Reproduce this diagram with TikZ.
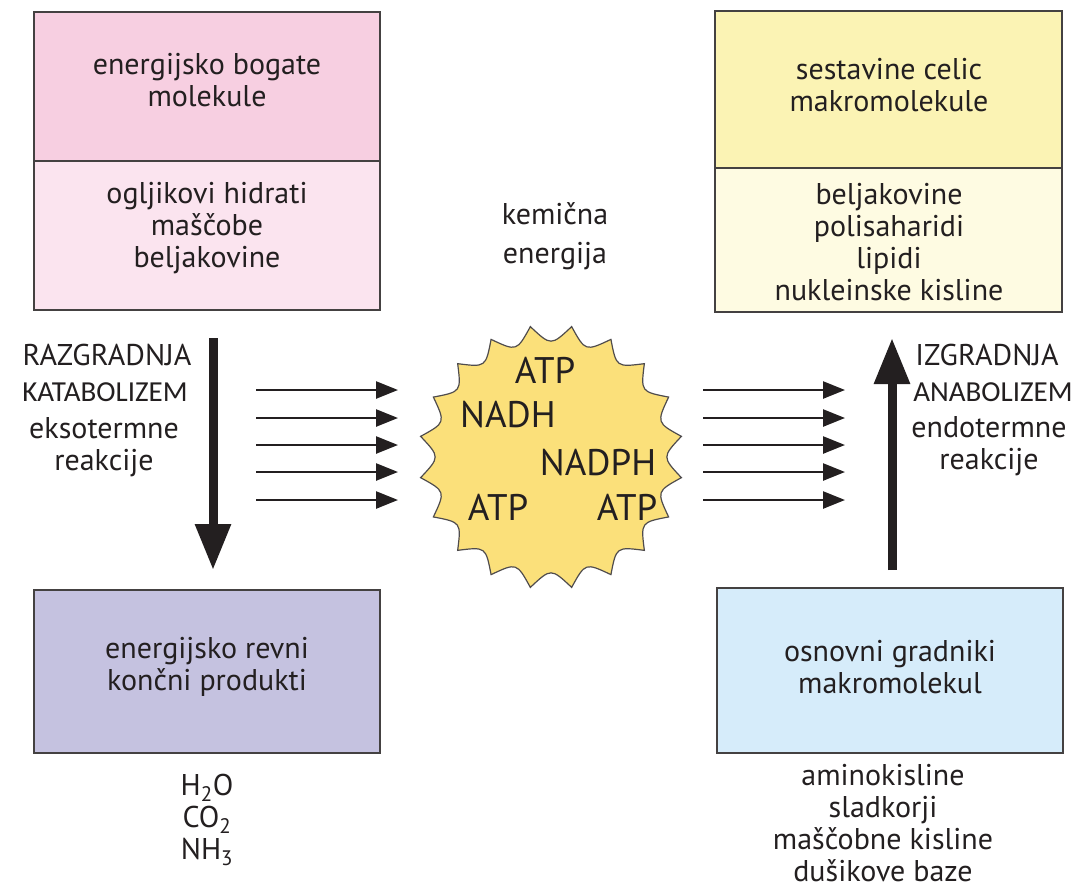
\documentclass[tikz,border=0pt]{standalone}
\usepackage{fontspec}
\setmainfont{PT Sans}
\newfontfamily\calib{Carlito}
\usetikzlibrary{arrows.meta,positioning}
\definecolor{ink}{RGB}{35,31,32}
\definecolor{rozaA}{RGB}{247,207,225}
\definecolor{rozaB}{RGB}{251,228,239}
\definecolor{rumA}{RGB}{251,243,180}
\definecolor{rumB}{RGB}{254,251,226}
\definecolor{vijol}{RGB}{197,194,224}
\definecolor{modra}{RGB}{214,236,250}
\definecolor{sonce}{RGB}{251,224,122}
\begin{document}
\begin{tikzpicture}[x=1pt,y=-1pt,
  box/.style={draw=ink!85,line width=1.5pt,minimum width=346pt,inner sep=0pt},
  txt/.style={text=ink,align=center,inner sep=0pt,font=\fontsize{30}{32}\selectfont},
  velik/.style={text=ink,inner sep=0pt,font=\fontsize{37}{40}\selectfont},
  cal/.style={text=ink,inner sep=0pt,font=\calib\fontsize{29}{31}\selectfont},
  debela/.style={draw=ink,line width=9pt,-{Triangle[width=34pt,length=46pt]}},
  tanka/.style={draw=ink,line width=2.5pt,-{Triangle[width=17pt,length=22pt]}}]
\path[use as bounding box,fill=white] (0,0) rectangle (1073,892);

\node[box,fill=rozaA,minimum height=149pt] (bogA) at (207,86.5) {};
\node[box,fill=rozaB,minimum height=149pt] (bogB) at (207,235.5) {};
\node[box,fill=rumA,minimum width=347pt,minimum height=157pt] (makA) at (888.5,89.5) {};
\node[box,fill=rumB,minimum width=347pt,minimum height=144pt] (makB) at (888.5,240) {};
\node[box,fill=vijol,minimum height=163pt] (revni) at (207,671.5) {};
\node[box,fill=modra,minimum height=165pt] (gradn) at (890,670.5) {};

\node[txt] (tBogA) at (207,80) {energijsko bogate\\molekule};
\node[txt] (tBogB) at (207,228) {ogljikovi hidrati\\maščobe\\beljakovine};
\node[txt] (tMakA) at (889,85) {sestavine celic\\makromolekule};
\node[txt] (tMakB) at (889,242) {beljakovine\\polisaharidi\\lipidi\\nukleinske kisline};
\node[txt] (tRevni) at (207,667) {energijsko revni\\končni produkti};
\node[txt] (tGradn) at (890,667) {osnovni gradniki\\makromolekul};
\node[txt] (kem) at (555,236) {kemična\\[7pt]energija};

\node[txt] (razg) at (107,355) {RAZGRADNJA};
\node[cal] (kata) at (105,392) {KATABOLIZEM};
\node[txt] (ekso) at (104,447) {eksotermne\\reakcije};
\node[txt] (izgr) at (987,355) {IZGRADNJA};
\node[cal] (ana) at (993,392) {ANABOLIZEM};
\node[txt] (endo) at (989,446) {endotermne\\reakcije};

\node[txt] (odpad) at (207,820) {H\textsubscript{2}O\\CO\textsubscript{2}\\NH\textsubscript{3}};
\node[txt] (gradniki) at (883,823) {aminokisline\\sladkorji\\maščobne kisline\\dušikove baze};

\coordinate (katZ) at (213,338);
\coordinate (katK) at (213,570);
\coordinate (anaZ) at (892,570);
\coordinate (anaK) at (892,338);
\draw[debela] (katZ) -- (katK);
\draw[debela] (anaZ) -- (anaK);

\foreach \y [count=\i] in {390,418,445,472,500}{
  \coordinate (lz\i) at (256,\y);
  \coordinate (lk\i) at (398,\y);
  \coordinate (dz\i) at (703,\y);
  \coordinate (dk\i) at (845,\y);
  \draw[tanka] (lz\i) -- (lk\i);
  \draw[tanka] (dz\i) -- (dk\i);
}

\coordinate (sredina) at (551,457);
\begin{scope}[shift={(sredina)}]
\draw[draw=ink!80,line width=1.2pt,fill=sonce] (99:132)
  \foreach \k in {1,...,20}{ .. controls (99+\k*18-9:111) .. (99+\k*18:132)} -- cycle;
\end{scope}
\node[velik] (atpA) at (545,370) {ATP};
\node[velik] (nadh) at (508,415) {NADH};
\node[velik] (nadph) at (598,463) {NADPH};
\node[velik] (atpB) at (498,507) {ATP};
\node[velik] (atpC) at (627,507) {ATP};
\end{tikzpicture}
\end{document}
